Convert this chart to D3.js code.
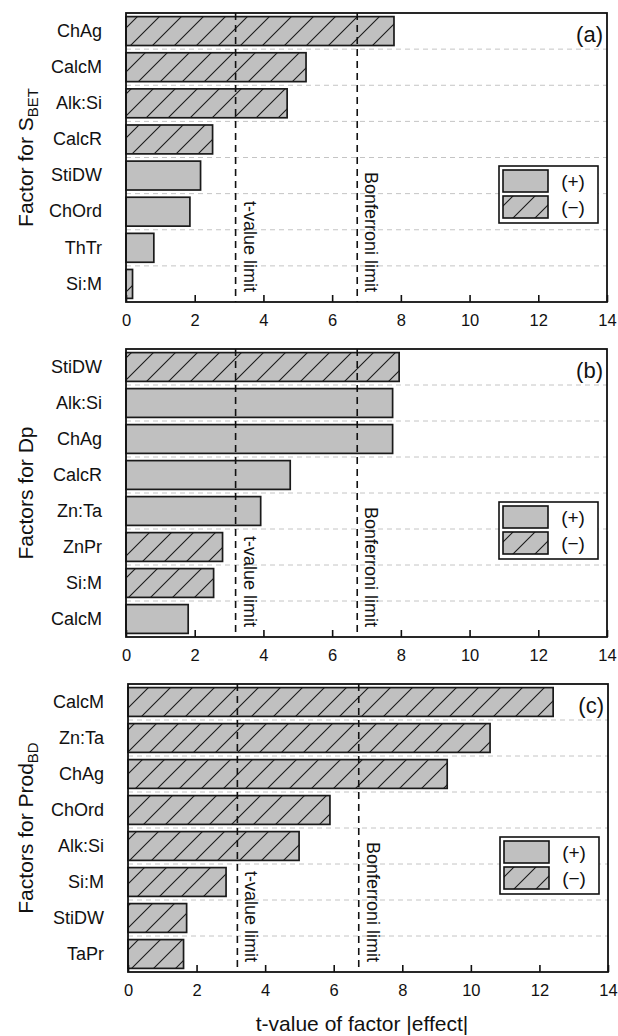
<!DOCTYPE html>
<html>
<head>
<meta charset="utf-8">
<script src="https://cdn.jsdelivr.net/npm/d3@7"></script>
<style>
  body { margin: 0; background: #fff; }
  text { font-family: "Liberation Sans", Arial, sans-serif; fill: #111; }
</style>
</head>
<body>
<div id="chart"></div>
<script>
// panel (a): factors for S_BET
const catsA = ["ChAg", "CalcM", "Alk:Si", "CalcR", "StiDW", "ChOrd", "ThTr", "Si:M"];
const valsA = [7.80, 5.24, 4.69, 2.52, 2.17, 1.86, 0.81, 0.19];
const signA = ["-", "-", "-", "-", "+", "+", "+", "-"];

// panel (b): factors for Dp
const catsB = ["StiDW", "Alk:Si", "ChAg", "CalcR", "Zn:Ta", "ZnPr", "Si:M", "CalcM"];
const valsB = [7.95, 7.76, 7.76, 4.78, 3.92, 2.81, 2.55, 1.81];
const signB = ["-", "+", "+", "+", "+", "-", "-", "+"];

// panel (c): factors for Prod_BD
const catsC = ["CalcM", "Zn:Ta", "ChAg", "ChOrd", "Alk:Si", "Si:M", "StiDW", "TaPr"];
const valsC = [12.40, 10.56, 9.31, 5.89, 4.99, 2.86, 1.71, 1.62];
const signC = ["-", "-", "-", "-", "-", "-", "-", "-"];

const xTicks = [0, 2, 4, 6, 8, 10, 12, 14];
const tLimit = 3.19;
const bonfLimit = 6.73;

const W = 618, H = 1036;
const grey = "#c0c0c0";
const svg = d3.select("#chart").append("svg")
    .attr("width", W)
    .attr("height", H);

const defs = svg.append("defs");
const hatch = defs.append("pattern")
    .attr("id", "hatch")
    .attr("patternUnits", "userSpaceOnUse")
    .attr("width", 22)
    .attr("height", 22);
hatch.append("rect").attr("width", 22).attr("height", 22).attr("fill", grey);
hatch.append("path")
    .attr("d", "M-2,2 L2,-2 M0,22 L22,0 M20,24 L24,20")
    .attr("stroke", "#1a1a1a")
    .attr("stroke-width", 1.1);

const panels = [
    { cats: catsA, vals: valsA, signs: signA, label: "(a)", title: ["Factor for S", "BET"], x0: 126, x1: 607, y0: 13, y1: 302 },
    { cats: catsB, vals: valsB, signs: signB, label: "(b)", title: ["Factors for Dp", ""], x0: 126, x1: 607, y0: 349, y1: 637 },
    { cats: catsC, vals: valsC, signs: signC, label: "(c)", title: ["Factors for Prod", "BD"], x0: 128, x1: 608, y0: 684, y1: 972 }
];

panels.forEach(p => {
    const g = svg.append("g");
    const x = d3.scaleLinear().domain([0, 14]).range([p.x0, p.x1]);
    const y = d3.scaleBand().domain(p.cats).range([p.y0, p.y1])
        .paddingInner(0.2).paddingOuter(0.1);
    const step = y.step();

    // dashed grid between rows
    g.selectAll("line.grid")
        .data(p.cats.slice(1))
        .enter().append("line")
        .attr("x1", p.x0).attr("x2", p.x1)
        .attr("y1", d => y(d) - step * 0.1)
        .attr("y2", d => y(d) - step * 0.1)
        .attr("stroke", "#c4c4c4")
        .attr("stroke-width", 1)
        .attr("stroke-dasharray", "5,4");

    // bars
    g.selectAll("rect.bar")
        .data(p.cats.map((c, i) => ({ c, v: p.vals[i], s: p.signs[i] })))
        .enter().append("rect")
        .attr("x", x(0))
        .attr("y", d => y(d.c))
        .attr("width", d => x(d.v) - x(0))
        .attr("height", y.bandwidth())
        .attr("fill", d => d.s === "-" ? "url(#hatch)" : grey)
        .attr("stroke", "#1a1a1a")
        .attr("stroke-width", 1.7);

    // limit lines and their labels
    [[tLimit, "t-value limit"], [bonfLimit, "Bonferroni limit"]].forEach(([v, txt]) => {
        g.append("line")
            .attr("x1", x(v)).attr("x2", x(v))
            .attr("y1", p.y0).attr("y2", p.y1)
            .attr("stroke", "#111")
            .attr("stroke-width", 1.6)
            .attr("stroke-dasharray", "7,5");
        g.append("text")
            .attr("transform", `translate(${x(v) + 8},${p.y1 - 10}) rotate(90)`)
            .attr("text-anchor", "end")
            .style("font-size", "18px")
            .text(txt);
    });

    // bottom axis, ticks pointing inward
    const ax = g.append("g")
        .attr("transform", `translate(0,${p.y1})`)
        .call(d3.axisBottom(x).tickValues(xTicks).tickSize(-7).tickPadding(12));
    ax.select(".domain").remove();
    ax.selectAll("line").attr("stroke", "#111").attr("stroke-width", 1.6);
    ax.selectAll("text").style("font-size", "16.5px").attr("fill", "#111");

    // category labels
    const ay = g.append("g")
        .attr("transform", `translate(${p.x0},0)`)
        .call(d3.axisLeft(y).tickSize(0).tickPadding(24));
    ay.select(".domain").remove();
    ay.selectAll("text").style("font-size", "18px").attr("fill", "#111");

    // frame
    g.append("rect")
        .attr("x", p.x0).attr("y", p.y0)
        .attr("width", p.x1 - p.x0).attr("height", p.y1 - p.y0)
        .attr("fill", "none")
        .attr("stroke", "#111")
        .attr("stroke-width", 1.8);

    // panel letter
    g.append("text")
        .attr("x", p.x1 - 4).attr("y", p.y0 + 29)
        .attr("text-anchor", "end")
        .style("font-size", "22px")
        .text(p.label);

    // legend
    const lg = g.append("g").attr("transform", `translate(${p.x1 - 108},${p.y0 + 153})`);
    lg.append("rect").attr("width", 99).attr("height", 57)
        .attr("fill", "#fff").attr("stroke", "#111").attr("stroke-width", 1.6);
    [[grey, "(+)"], ["url(#hatch)", "(\u2212)"]].forEach(([f, t], i) => {
        lg.append("rect")
            .attr("x", 4).attr("y", 4 + i * 26)
            .attr("width", 45).attr("height", 22)
            .attr("fill", f).attr("stroke", "#111").attr("stroke-width", 1.6);
        lg.append("text")
            .attr("x", 74).attr("y", 15 + i * 26)
            .attr("dy", "0.35em")
            .attr("text-anchor", "middle")
            .style("font-size", "19px")
            .text(t);
    });

    // y title
    const yt = g.append("text")
        .attr("transform", `translate(33,${(p.y0 + p.y1) / 2}) rotate(-90)`)
        .attr("text-anchor", "middle")
        .style("font-size", "21px");
    yt.append("tspan").text(p.title[0]);
    if (p.title[1]) {
        yt.append("tspan").attr("dy", 5).style("font-size", "15px").text(p.title[1]);
    }
});

svg.append("text")
    .attr("x", 362).attr("y", 1031)
    .attr("text-anchor", "middle")
    .style("font-size", "21px")
    .text("t-value of factor |effect|");
</script>
</body>
</html>
